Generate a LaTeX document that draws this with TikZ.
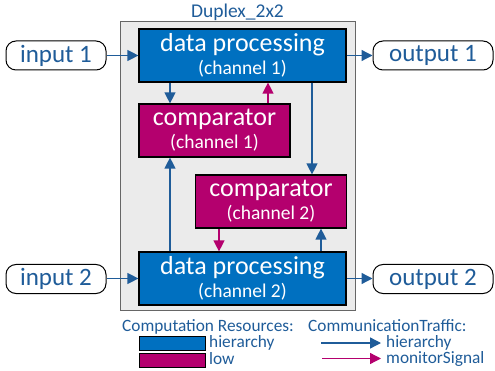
\documentclass[tikz,border=0pt]{standalone}
\usepackage{fontspec}
\setmainfont{Carlito}
\usetikzlibrary{arrows.meta,positioning}
\definecolor{dpblue}{HTML}{0070C0}
\definecolor{cmag}{HTML}{B4006E}
\definecolor{txtblue}{HTML}{1F5C99}
\definecolor{bggray}{HTML}{EBEBEB}
\tikzset{
  box/.style={draw=black, line width=1.2pt, text=white, inner sep=0pt, align=center, font=\fontsize{19.5}{23}\selectfont},
  dpbox/.style={box, fill=dpblue, minimum width=207pt, minimum height=53pt},
  cmbox/.style={box, fill=cmag, minimum width=151pt, minimum height=53pt},
  io/.style={draw=black, line width=1pt, rounded corners=10pt, fill=white, text=txtblue, minimum width=100pt, minimum height=29pt, inner sep=0pt, font=\fontsize{25}{27}\selectfont},
  hier/.style={draw=txtblue, line width=1.3pt, -{Triangle[length=11pt,width=11pt]}},
  mon/.style={draw=cmag, line width=1.3pt, -{Triangle[length=11pt,width=11pt]}},
  lbl/.style={text=txtblue, inner sep=0pt, font=\fontsize{17.3}{19}\selectfont},
  leg/.style={lbl, anchor=base west, text height=10pt, text depth=0pt},
  legbox/.style={draw=black, line width=1pt, minimum width=66pt, minimum height=14pt, inner sep=0pt},
}
\newcommand{\twolines}[2]{{\fontsize{26}{28}\selectfont #1}\\{#2}}
\begin{document}
\begin{tikzpicture}[x=1pt,y=-1pt]
\useasboundingbox (0,0) rectangle (495,371);
% outer
\node[draw=black!60, line width=0.8pt, fill=bggray, minimum width=235pt, minimum height=289pt, inner sep=0pt] (outer) at (237.5,165.5) {};
\node[lbl, font=\fontsize{19.5}{21}\selectfont] (title) at (237.5,12) {Duplex\_2x2};
% blocks
\node[dpbox] (dp1) at (242.5,55.5) {\twolines{data processing}{(channel 1)}};
\node[cmbox] (cm1) at (214.5,130.5) {\twolines{comparator}{(channel 1)}};
\node[cmbox] (cm2) at (271,201.5) {\twolines{comparator}{(channel 2)}};
\node[dpbox] (dp2) at (242.5,278.5) {\twolines{data processing}{(channel 2)}};
% io
\node[io] (in1) at (56,55.5) {input 1};
\node[io, minimum width=120pt] (out1) at (433,55.5) {output 1};
\node[io] (in2) at (56,279) {input 2};
\node[io, minimum width=120pt] (out2) at (433,279) {output 2};
% connectors
\draw[hier] (in1.east) -- (dp1.west);
\draw[hier] (dp1.east) -- (out1.west);
\draw[hier] (in2.east |- dp2.west) -- (dp2.west);
\draw[hier] (dp2.east) -- (out2.west |- dp2.east);
\draw[hier] (dp1.south -| 170,0) -- (cm1.north -| 170,0);
\draw[mon] (cm1.north -| 268,0) -- (dp1.south -| 268,0);
\draw[hier] (dp1.south -| 312,0) -- (cm2.north -| 312,0);
\draw[hier] (dp2.north -| 170,0) -- (cm1.south -| 170,0);
\draw[mon] (cm2.south -| 219,0) -- (dp2.north -| 219,0);
\draw[hier] (dp2.north -| 321,0) -- (cm2.south -| 321,0);
% legend
\node[leg] (lgr) at (122,331) {Computation Resources:};
\node[legbox, fill=dpblue] (lgb) at (172,343.5) {};
\node[legbox, fill=cmag] (lgm) at (172,360.5) {};
\node[leg] (lgbt) at (209,347.5) {hierarchy};
\node[leg] (lgmt) at (209,364) {low};
\node[leg] (lct) at (308,331) {CommunicationTraffic:};
\node[leg] (lht) at (386,347.5) {hierarchy};
\node[leg] (lmt) at (386,363.5) {monitorSignal};
\coordinate (ha) at (321,343);
\coordinate (ma) at (322,358.5);
\draw[hier] (ha) -- ([xshift=-5pt]lht.west |- ha);
\draw[mon] (ma) -- ([xshift=-5pt]lmt.west |- ma);
\end{tikzpicture}
\end{document}
